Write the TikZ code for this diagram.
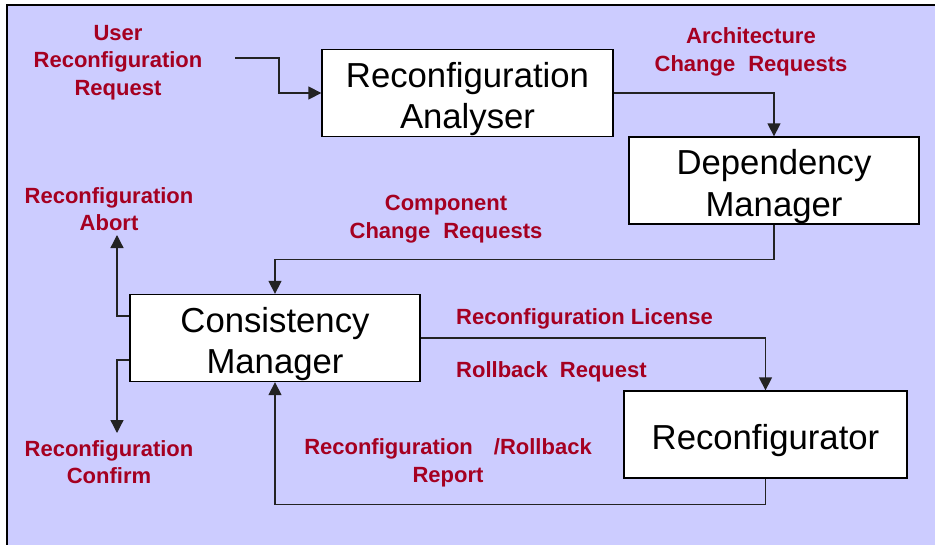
\documentclass[tikz,border=0pt]{standalone}
\usepackage{fontspec}
\setmainfont{Liberation Sans}
\usetikzlibrary{arrows.meta}

\definecolor{panel}{RGB}{204,204,255}
\definecolor{labelred}{RGB}{165,0,33}
\definecolor{wire}{RGB}{35,35,35}

% strut that sets block text a little lower within its box
\newcommand{\blocklift}{\rule{0pt}{37pt}}

\begin{document}
\begin{tikzpicture}[x=1pt, y=-1pt,
  block/.style={draw=black, line width=1.3pt, fill=white, inner sep=0pt,
    minimum height=87pt, align=center, font=\fontsize{34.7}{41.5}\selectfont},
  tag/.style={text=labelred, inner sep=0pt, align=center,
    font=\fontsize{22}{27.5}\selectfont\bfseries},
  link/.style={draw=wire, line width=1.3pt},
  flow/.style={link, -{Triangle[length=13pt, width=13pt]}}]

  % page and background panel
  \useasboundingbox (0,0) rectangle (935,544);
  \draw[fill=panel, line width=1.5pt] (7,5) rectangle (938,548);

  % processing blocks
  \node[block, minimum width=291pt] (ana) at (467.5,93)
    {\blocklift Reconfiguration\\Analyser};
  \node[block, minimum width=290pt] (dep) at (774,180.5)
    {\blocklift Dependency\\Manager};
  \node[block, minimum width=290pt] (con) at (275,338)
    {\blocklift Consistency\\Manager};
  \node[block, minimum width=283pt] (rec) at (765.5,434.5)
    {\blocklift Reconfigurator};

  % message labels
  \node[tag] (userreq) at (118,62.5) {User\\Reconfiguration\\Request};
  \node[tag] (archreq) at (751,52) {Architecture\\Change\hspace{13pt}Requests};
  \node[tag] (compreq) at (446,219) {Component\\Change\hspace{13pt}Requests};
  \node[tag] (abort) at (109,209) {Reconfiguration\\Abort};
  \node[tag] (confirm) at (109,462) {Reconfiguration\\Confirm};
  \node[tag, anchor=base west] (license) at (456,324) {Reconfiguration License};
  \node[tag, anchor=base west] (rollback) at (456,377) {Rollback\hspace{12pt}Request};
  \node[tag] (report) at (448,463)
    {Reconfiguration\hspace{21pt}/Rollback\\Report};

  % free ends of the external messages
  \coordinate (userin) at (235,58);
  \coordinate (aborttip) at (117,235);
  \coordinate (confirmtip) at (117,433);

  % connectors
  \draw[flow] (userin) -- (279,58) |- (ana.west);
  \draw[flow] (ana.east) -| (dep.north);
  \draw[flow] (dep.south) -- ++(0,35) -| (con.north);
  \draw[flow] ([yshift=22pt]con.west) -| (aborttip);
  \draw[flow] ([yshift=-22pt]con.west) -| (confirmtip);
  \draw[flow] (con.east) -| (rec.north);
  \draw[flow] (rec.south) -- ++(0,26) -| (con.south);
\end{tikzpicture}
\end{document}
